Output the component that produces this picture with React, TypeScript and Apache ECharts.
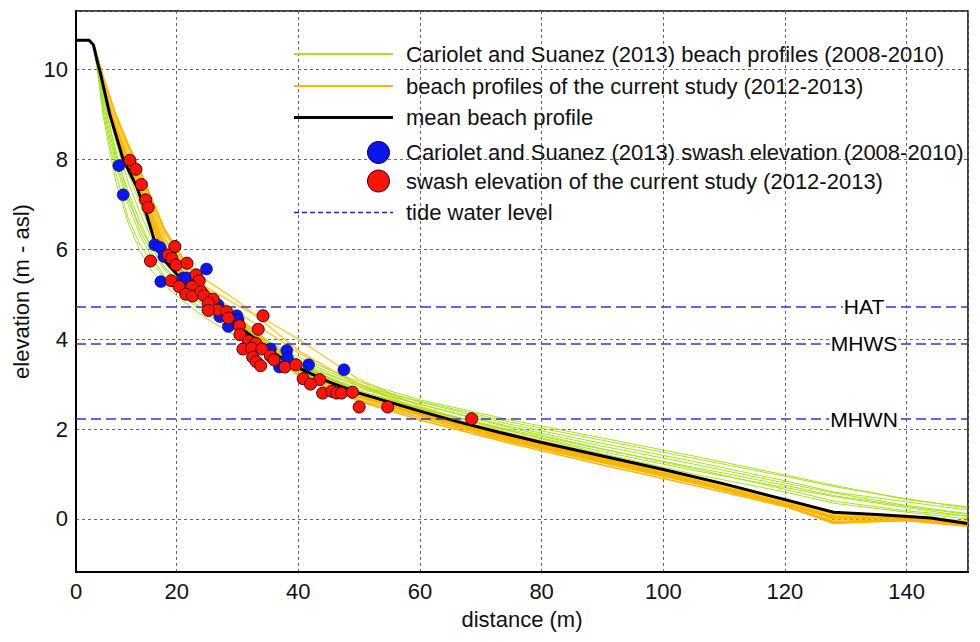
import React, { useEffect, useRef } from "react";
import * as echarts from "echarts";

// mean beach profile (distance m, elevation m asl)
const meanDist = [3.45, 5.6, 6.3, 7.0, 7.4, 9.0, 11.2, 13.4, 15.1, 16.0, 16.8, 18, 20, 22.5, 25, 28, 31, 34, 37, 40, 45, 50, 55, 60, 66, 73, 80, 90, 100, 110, 120, 128, 135, 144, 150];
const meanElev = [10.65, 10.65, 10.55, 10.15, 9.95, 9.0, 8.0, 7.4, 6.75, 6.35, 6.0, 5.75, 5.45, 5.12, 4.85, 4.52, 4.2, 3.9, 3.6, 3.36, 3.05, 2.8, 2.6, 2.4, 2.17, 1.93, 1.7, 1.4, 1.1, 0.78, 0.43, 0.15, 0.1, 0.02, -0.1];

// individual beach profiles, sampled at these distances
const profileDist = [6.5, 8, 10, 12, 14, 16, 18, 21, 25, 30, 35, 40, 50, 60, 75, 90, 105, 120, 128, 140, 150];

const cariolet2008 = [
  [10.5, 9.3, 8.2, 7.2, 6.4, 5.9, 5.55, 5.15, 4.65, 4.2, 3.8, 3.45, 2.95, 2.62, 2.15, 1.75, 1.35, 0.95, 0.72, 0.45, 0.24],
  [10.45, 9.0, 7.7, 6.7, 6.1, 5.7, 5.35, 4.95, 4.55, 4.15, 3.75, 3.4, 2.9, 2.55, 2.05, 1.62, 1.22, 0.8, 0.58, 0.3, 0.12],
  [10.5, 9.5, 8.4, 7.5, 6.8, 6.2, 5.7, 5.25, 4.8, 4.35, 3.9, 3.55, 3.0, 2.6, 2.1, 1.68, 1.28, 0.85, 0.6, 0.38, 0.2],
  [10.4, 9.1, 7.9, 7.0, 6.3, 5.8, 5.4, 5.0, 4.6, 4.2, 3.8, 3.45, 2.85, 2.45, 1.95, 1.5, 1.08, 0.7, 0.5, 0.25, 0.06],
  [10.5, 9.4, 8.1, 7.3, 6.6, 6.0, 5.6, 5.2, 4.75, 4.3, 3.85, 3.5, 2.95, 2.55, 2.02, 1.56, 1.12, 0.66, 0.4, 0.18, 0.06],
  [10.45, 8.9, 7.5, 6.6, 5.95, 5.5, 5.2, 4.85, 4.45, 4.05, 3.65, 3.3, 2.8, 2.45, 1.98, 1.55, 1.15, 0.75, 0.52, 0.28, 0.1],
  [10.5, 9.6, 8.5, 7.7, 7.0, 6.3, 5.8, 5.3, 4.85, 4.4, 3.95, 3.6, 3.05, 2.65, 2.2, 1.8, 1.4, 0.98, 0.75, 0.43, 0.27],
  [10.4, 9.2, 8.0, 7.1, 6.5, 6.0, 5.6, 5.15, 4.7, 4.25, 3.8, 3.4, 2.85, 2.48, 1.95, 1.45, 1.0, 0.6, 0.35, 0.15, 0.0],
];

const currentStudy2012 = [
  [10.5, 9.75, 8.85, 8.15, 7.55, 6.9, 6.25, 5.6, 5.0, 4.4, 3.85, 3.35, 2.75, 2.32, 1.78, 1.3, 0.85, 0.35, 0.05, 0.0, -0.12],
  [10.5, 9.7, 8.75, 8.0, 7.35, 6.7, 6.05, 5.5, 4.95, 4.35, 3.8, 3.3, 2.7, 2.3, 1.75, 1.28, 0.82, 0.3, -0.05, -0.02, -0.15],
  [10.45, 9.65, 8.7, 7.95, 7.3, 6.6, 5.95, 5.42, 4.9, 4.32, 3.78, 3.3, 2.72, 2.33, 1.8, 1.33, 0.88, 0.38, 0.08, 0.02, -0.1],
  [10.5, 9.8, 8.95, 8.3, 7.7, 7.05, 6.4, 5.75, 5.1, 4.5, 3.95, 3.45, 2.82, 2.38, 1.82, 1.35, 0.9, 0.42, 0.12, 0.04, -0.08],
  [10.45, 9.55, 8.6, 7.85, 7.2, 6.5, 5.85, 5.38, 4.88, 4.28, 3.72, 3.25, 2.65, 2.25, 1.72, 1.25, 0.8, 0.32, 0.02, 0.0, -0.14],
  [10.5, 9.7, 8.8, 8.1, 7.45, 6.8, 6.2, 5.7, 5.15, 4.75, 4.4, 4.0, 3.1, 2.5, 1.9, 1.42, 0.95, 0.45, 0.15, 0.08, -0.05],
  [10.5, 9.75, 8.9, 8.2, 7.6, 7.0, 6.35, 5.8, 5.3, 4.85, 4.3, 3.75, 2.95, 2.45, 1.85, 1.38, 0.9, 0.4, 0.1, 0.05, -0.08],
  [10.45, 9.6, 8.65, 7.9, 7.25, 6.55, 5.9, 5.4, 4.85, 4.22, 3.68, 3.2, 2.62, 2.2, 1.68, 1.2, 0.75, 0.28, -0.08, -0.04, -0.16],
  [10.5, 9.7, 8.8, 8.05, 7.4, 6.75, 6.1, 5.52, 4.95, 4.38, 3.82, 3.35, 2.78, 2.36, 1.82, 1.34, 0.87, 0.36, 0.0, 0.02, -0.1],
  [10.5, 9.8, 9.0, 8.35, 7.75, 7.1, 6.45, 5.8, 5.05, 4.45, 3.9, 3.4, 2.78, 2.35, 1.8, 1.32, 0.86, 0.34, 0.04, 0.0, -0.12],
  [10.45, 9.65, 8.75, 8.0, 7.3, 6.6, 5.95, 5.45, 4.92, 4.35, 3.82, 3.34, 2.74, 2.3, 1.76, 1.28, 0.82, 0.3, -0.1, -0.03, -0.14],
  [10.5, 9.7, 8.85, 8.1, 7.5, 6.85, 6.2, 5.6, 5.05, 4.6, 4.15, 3.7, 3.0, 2.42, 1.86, 1.38, 0.92, 0.4, 0.1, 0.05, -0.06],
];

// swash elevations [distance, elevation]
const blueSwash = [
  [10.5, 7.86], [11.2, 7.21], [16.4, 6.1], [17.3, 6.04], [17.9, 5.84], [17.4, 5.28], [21.1, 5.36], [21.7, 5.36],
  [24.9, 5.56], [26.8, 4.76], [27.1, 4.5], [29.0, 4.47], [28.5, 4.28], [29.9, 4.52], [30.1, 4.43], [35.4, 3.78],
  [38.1, 3.75], [38.2, 3.58], [36.9, 3.38], [41.7, 3.43], [47.5, 3.32],
];
const redSwash = [
  [12.3, 7.98], [13.3, 7.78], [14.2, 7.44], [14.9, 7.1], [15.3, 6.93], [19.7, 6.06], [15.7, 5.74], [18.6, 5.87],
  [19.2, 5.8], [19.9, 5.65], [21.7, 5.69], [19.1, 5.3], [20.4, 5.17], [23.2, 5.43], [23.7, 5.3], [22.5, 5.17],
  [21.5, 5.0], [22.6, 4.96], [24.0, 5.06], [24.5, 4.97], [26.0, 4.89], [25.2, 4.8], [26.7, 4.65], [25.2, 4.64],
  [28.2, 4.61], [34.2, 4.52], [28.5, 4.47], [30.3, 4.3], [33.4, 4.22], [30.4, 4.1], [31.8, 3.96], [33.0, 3.91],
  [30.9, 3.78], [32.3, 3.8], [34.0, 3.78], [32.5, 3.6], [33.1, 3.5], [33.8, 3.41], [35.4, 3.63], [36.0, 3.54],
  [37.8, 3.38], [39.6, 3.43], [40.8, 3.12], [43.5, 3.1], [42.0, 3.0], [44.0, 2.8], [45.5, 2.84], [46.3, 2.8],
  [47.1, 2.8], [48.9, 2.82], [50.0, 2.49], [54.7, 2.49], [68.5, 2.23],
];

// tide levels
const tideNames = ["HAT", "MHWS", "MHWN"];
const tideLevels = [4.72, 3.9, 2.22];
const tideLabelDist = 133;

const legendLabels = [
  "Cariolet and Suanez (2013) beach profiles (2008-2010)",
  "beach profiles of the current study (2012-2013)",
  "mean beach profile",
  "Cariolet and Suanez (2013) swash elevation (2008-2010)",
  "swash elevation of the current study (2012-2013)",
  "tide water level",
];

const FONT = '"Liberation Sans", Arial, Helvetica, sans-serif';
const GREEN = "#a6e31a";
const ORANGE = "#ffb400";
const ORANGE_LIGHT = "#ffcf3a";
const TIDE = "#3535c8";
const BLUE = "#0b16ee";
const RED = "#ff1208";

export default function App() {
  const ref = useRef<HTMLDivElement>(null);
  useEffect(() => {
    if (!ref.current) return;
    const chart = echarts.init(ref.current, null, { renderer: "svg" });

    const profileSeries = (profiles: number[][], color: (i: number) => string, width: number, z: number) =>
      profiles.map((p, i) => ({
        type: "line",
        data: profileDist.map((d, j) => [d, p[j]]),
        showSymbol: false,
        symbol: "none",
        silent: true,
        z,
        lineStyle: { color: color(i), width },
      }));

    const rowsY = [54, 86, 117.5, 152.5, 181, 212.5];
    const lineX1 = 294;
    const lineX2 = 393;
    const textX = 406;
    const circleX = 378.5;
    const graphic: any[] = [];
    const lineStyles = [
      { stroke: GREEN, lineWidth: 2 },
      { stroke: ORANGE, lineWidth: 2 },
      { stroke: "#000", lineWidth: 3 },
      null,
      null,
      { stroke: "#2020d0", lineWidth: 1.5, lineDash: [5, 3] },
    ];
    legendLabels.forEach((label, i) => {
      const y = rowsY[i];
      const ls = lineStyles[i];
      if (ls) {
        graphic.push({ type: "line", shape: { x1: lineX1, y1: y, x2: lineX2, y2: y }, style: ls, z: 20, silent: true });
      } else {
        graphic.push({
          type: "circle",
          shape: { cx: circleX, cy: y, r: 11 },
          style: { fill: i === 3 ? BLUE : RED, stroke: i === 3 ? "#000033" : "#330000", lineWidth: 1 },
          z: 20,
          silent: true,
        });
      }
      graphic.push({
        type: "text",
        x: textX,
        y,
        z: 20,
        silent: true,
        style: {
          text: label,
          fill: "#111",
          fontSize: 22,
          fontFamily: FONT,
          align: "left",
          verticalAlign: "middle",
          textAlign: "left",
          textVerticalAlign: "middle",
        },
      });
    });

    const option: any = {
      animation: false,
      backgroundColor: "#fff",
      textStyle: { fontFamily: FONT },
      grid: { left: 76, right: 12, top: 11, bottom: 70, show: true, borderColor: "#000", borderWidth: 1.5, backgroundColor: "transparent" },
      xAxis: {
        type: "value",
        min: 3.45,
        max: 150.1,
        splitNumber: 7,
        minInterval: 20,
        maxInterval: 20,
        name: "distance (m)",
        nameLocation: "middle",
        nameGap: 36,
        nameTextStyle: { fontSize: 22, color: "#111", fontFamily: FONT },
        axisLine: { show: true, onZero: false, lineStyle: { color: "#000", width: 2 } },
        axisTick: { show: false },
        axisLabel: {
          fontSize: 22,
          color: "#111",
          margin: 8,
          fontFamily: FONT,
          formatter: (v: number) => (v < 10 ? "0" : v > 145 ? "" : String(Math.round(v))),
        },
        splitLine: { show: true, lineStyle: { color: "#666", type: [3, 3], width: 1 } },
      },
      yAxis: {
        type: "value",
        min: -1.18,
        max: 11.3,
        splitNumber: 6,
        minInterval: 2,
        maxInterval: 2,
        name: "elevation (m - asl)",
        nameLocation: "middle",
        nameGap: 37,
        nameTextStyle: { fontSize: 22, color: "#111", fontFamily: FONT },
        axisLine: { show: true, onZero: false, lineStyle: { color: "#000", width: 2 } },
        axisTick: { show: false },
        axisLabel: {
          fontSize: 22,
          color: "#111",
          margin: 8,
          fontFamily: FONT,
          formatter: (v: number) => {
            const r = Math.round(v);
            return Math.abs(v - r) < 1e-6 && r % 2 === 0 ? String(r) : "";
          },
        },
        splitLine: { show: true, lineStyle: { color: "#666", type: [3, 3], width: 1 } },
      },
      graphic,
      series: [
        ...profileSeries(currentStudy2012, (i) => ([5, 6, 11].includes(i) ? ORANGE_LIGHT : ORANGE), 1.6, 2),
        ...profileSeries(cariolet2008, () => GREEN, 1, 3),
        {
          type: "line",
          data: meanDist.map((d, i) => [d, meanElev[i]]),
          showSymbol: false,
          symbol: "none",
          silent: true,
          z: 4,
          lineStyle: { color: "#000", width: 3 },
        },
        {
          type: "line",
          data: [],
          silent: true,
          z: 5,
          markLine: {
            silent: true,
            symbol: "none",
            label: { show: false },
            lineStyle: { color: TIDE, type: [10, 5], width: 1.6 },
            data: tideLevels.map((v) => ({ yAxis: v })),
          },
        },
        {
          type: "scatter",
          data: blueSwash,
          symbol: "circle",
          symbolSize: 12,
          z: 6,
          silent: true,
          itemStyle: { color: BLUE, borderColor: "#000055", borderWidth: 0.5, opacity: 1 },
        },
        {
          type: "scatter",
          data: redSwash,
          symbol: "circle",
          symbolSize: 12,
          z: 7,
          silent: true,
          itemStyle: { color: RED, borderColor: "#3a0000", borderWidth: 1, opacity: 1 },
        },
        {
          type: "scatter",
          data: tideNames.map((n, i) => ({ name: n, value: [tideLabelDist, tideLevels[i]] })),
          symbolSize: 1,
          z: 8,
          silent: true,
          itemStyle: { color: "rgba(0,0,0,0)" },
          label: {
            show: true,
            position: "inside",
            formatter: "{b}",
            fontSize: 21,
            color: "#000",
            opacity: 1,
            fontFamily: FONT,
            backgroundColor: "#fff",
            padding: [1, 1],
          },
        },
      ],
    };
    chart.setOption(option);
    return () => chart.dispose();
  }, []);
  return <div ref={ref} style={{ position: "fixed", left: 0, top: 0, width: 980, height: 642, background: "#fff" }} />;
}
